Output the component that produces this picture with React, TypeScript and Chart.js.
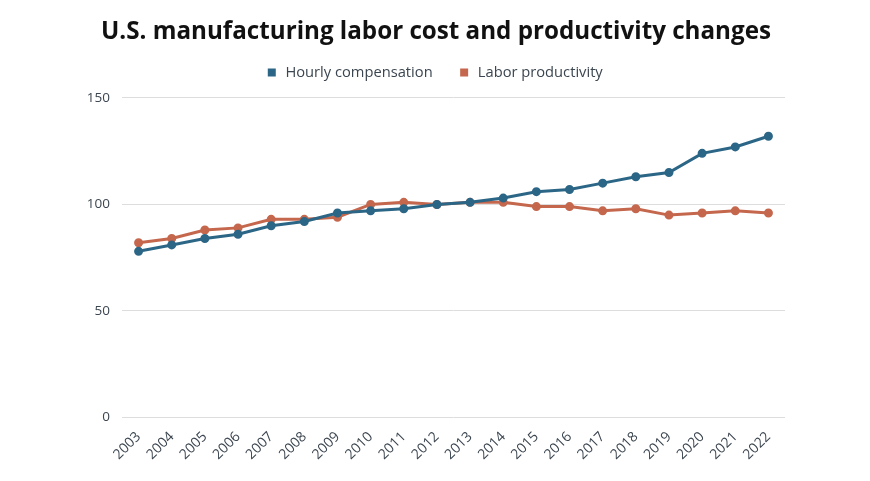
import React, { useEffect, useRef } from "react";
import { Chart, registerables } from "chart.js";

Chart.register(...registerables);

const years = ["2003","2004","2005","2006","2007","2008","2009","2010","2011","2012","2013","2014","2015","2016","2017","2018","2019","2020","2021","2022"];
const hourlyCompensation = [78, 81, 84, 86, 90, 92, 96, 97, 98, 100, 101, 103, 106, 107, 110, 113, 115, 124, 127, 132];
const laborProductivity = [82, 84, 88, 89, 93, 93, 94, 100, 101, 100, 101, 101, 99, 99, 97, 98, 95, 96, 97, 96];
const yTicks = [0, 50, 100, 150];

const BLUE = "#2b6686";
const ORANGE = "#c4674c";
const FONT = "'Open Sans', 'Noto Sans', sans-serif";

export default function App() {
  const ref = useRef<HTMLCanvasElement>(null);
  useEffect(() => {
    if (!ref.current) return;
    const chart = new Chart(ref.current, {
      type: "line",
      data: {
        labels: years,
        datasets: [
          {
            label: "Hourly compensation",
            data: hourlyCompensation,
            borderColor: BLUE,
            backgroundColor: BLUE,
            borderWidth: 3,
            pointRadius: 3,
            pointBackgroundColor: BLUE,
            pointBorderColor: BLUE,
            tension: 0,
          },
          {
            label: "Labor productivity",
            data: laborProductivity,
            borderColor: ORANGE,
            backgroundColor: ORANGE,
            borderWidth: 3,
            pointRadius: 3,
            pointBackgroundColor: ORANGE,
            pointBorderColor: ORANGE,
            tension: 0,
          },
        ],
      },
      options: {
        animation: false,
        responsive: false,
        layout: { padding: { left: 81, right: 79, top: 6, bottom: 15 } },
        plugins: {
          title: {
            display: true,
            text: "U.S. manufacturing labor cost and productivity changes",
            color: "#111111",
            font: { family: FONT, size: 24.2, weight: "bold" },
            padding: { top: 12, bottom: -11 },
          },
          subtitle: {
            display: true,
            text: "",
            weight: 100,
            font: { size: 1 },
            padding: { top: 7, bottom: 0 },
          },
          legend: {
            display: true,
            labels: {
              boxWidth: 5,
              boxHeight: 5,
              color: "#3c4650",
              font: { family: FONT, size: 14.7 },
              padding: 29,
              generateLabels: (c: any) =>
                Chart.defaults.plugins.legend.labels
                  .generateLabels(c)
                  .map((l: any) => ({ ...l, text: " " + l.text })),
            },
          },
          tooltip: { enabled: false },
        },
        scales: {
          x: {
            offset: true,
            grid: { display: false },
            border: { display: false },
            ticks: {
              color: "#3c4650",
              font: { family: FONT, size: 14 },
              maxRotation: 45,
              minRotation: 45,
              autoSkip: false,
            },
          },
          y: {
            min: 0,
            max: 150,
            afterBuildTicks: (axis: any) => {
              axis.ticks = yTicks.map((v) => ({ value: v }));
            },
            afterFit: (axis: any) => {
              axis.width = 41;
            },
            grid: { color: "#dddddd", lineWidth: 1, drawTicks: false },
            border: { display: false },
            ticks: {
              color: "#3c4650",
              font: { family: FONT, size: 13.5 },
              padding: 12,
            },
          },
          yRight: {
            position: "right",
            min: 0,
            max: 150,
            grid: { display: false },
            border: { display: false },
            ticks: { display: false },
            afterFit: (axis: any) => {
              axis.width = 6;
            },
          },
        },
      },
    });
    return () => chart.destroy();
  }, []);
  return (
    <div style={{ position: "absolute", left: 0, top: 0, width: 870, height: 481, background: "#ffffff" }}>
      <canvas ref={ref} width={870} height={481} />
    </div>
  );
}
